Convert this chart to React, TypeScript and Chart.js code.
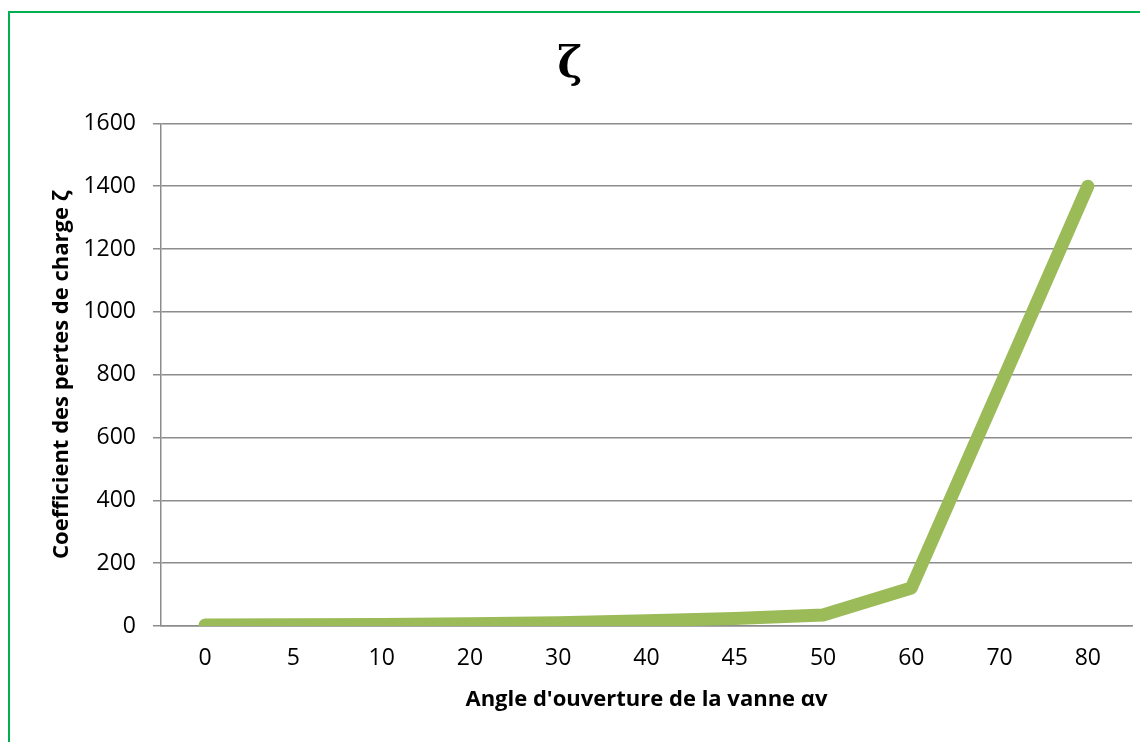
import React, { useEffect, useRef } from "react";
import { Chart, registerables } from "chart.js";

Chart.register(...registerables);

const categories: string[] = ["0", "5", "10", "20", "30", "40", "45", "50", "60", "70", "80"];
const zetaValues: number[] = [3, 4, 5, 7, 10, 17, 24, 35, 121, 760, 1400];
const yTicks: number[] = [0, 200, 400, 600, 800, 1000, 1200, 1400, 1600];

const chartTitle = "ζ";
const xTitle = "Angle d'ouverture de la vanne αv";
const yTitle = "Coefficient des pertes de charge ζ";

export default function App() {
  const ref = useRef<HTMLCanvasElement | null>(null);

  useEffect(() => {
    document.body.style.overflow = "hidden";
    const ctx = ref.current!;
    const chart = new Chart(ctx, {
      type: "line",
      data: {
        labels: categories,
        datasets: [
          {
            label: "ζ",
            data: zetaValues,
            borderColor: "#9BBB59",
            backgroundColor: "#9BBB59",
            borderWidth: 13,
            borderCapStyle: "round",
            borderJoinStyle: "round",
            pointRadius: 0,
            tension: 0,
            fill: false,
          },
        ],
      },
      options: {
        responsive: false,
        animation: false,
        devicePixelRatio: 1,
        layout: { padding: { left: 0, right: 16, top: 0, bottom: 0 } },
        plugins: {
          legend: { display: false },
          tooltip: { enabled: false },
          title: {
            display: true,
            text: chartTitle,
            color: "#000",
            font: { family: "'DejaVu Serif', serif", size: 42, weight: "bold" },
            padding: { top: 33, bottom: 32 },
          },
        },
        scales: {
          x: {
            type: "category",
            offset: true,
            grid: { display: false, drawTicks: false },
            border: { display: true, color: "#8c8c8c", width: 1.5 },
            ticks: {
              color: "#000",
              padding: 19,
              maxRotation: 0,
              autoSkip: false,
              font: { family: "'Open Sans', sans-serif", size: 23 },
            },
            title: {
              display: true,
              text: xTitle,
              color: "#000",
              font: { family: "'Open Sans', sans-serif", size: 22, weight: "bold" },
              padding: { top: 0, bottom: 21 },
            },
            afterFit: (s: any) => {
              s.height = 108;
            },
          },
          y: {
            min: 0,
            max: 1600,
            afterBuildTicks: (s: any) => {
              s.ticks = yTicks.map((v) => ({ value: v }));
            },
            grid: {
              color: "#8c8c8c",
              lineWidth: 1.5,
              drawTicks: true,
              tickLength: 8,
            },
            border: { display: true, color: "#8c8c8c", width: 1.5 },
            ticks: {
              color: "#000",
              padding: 17,
              callback: (v: any) => String(v),
              font: { family: "'Open Sans', sans-serif", size: 23 },
            },
            title: {
              display: true,
              text: yTitle,
              color: "#000",
              font: { family: "'Open Sans', sans-serif", size: 22, weight: "bold" },
              padding: { top: 41, bottom: 0 },
            },
            afterFit: (s: any) => {
              s.width = 153;
            },
          },
        },
      },
    });
    return () => chart.destroy();
  }, []);

  return (
    <div style={{ position: "relative", width: 1140, height: 734, overflow: "hidden" }}>
      <div
        style={{
          position: "absolute",
          left: 0,
          top: 3,
          width: 1300,
          height: 900,
          border: "2px solid #00B050",
          boxSizing: "border-box",
        }}
      />
      <canvas
        ref={ref}
        width={1140}
        height={726}
        style={{ position: "absolute", left: 0, top: 0, width: 1140, height: 726 }}
      />
    </div>
  );
}
